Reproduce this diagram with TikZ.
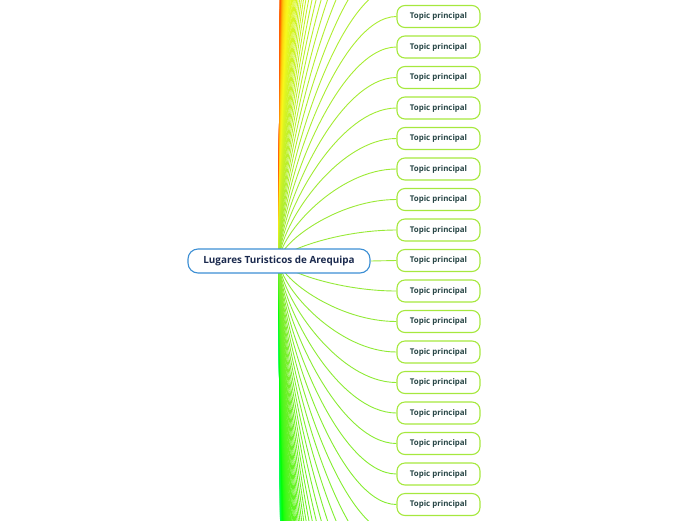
\documentclass[tikz,border=0pt]{standalone}
\usepackage{fontspec}
\setmainfont{Open Sans}
\usetikzlibrary{backgrounds}
\definecolor{topicline}{HTML}{A6E83E}
\definecolor{topictext}{HTML}{284646}
\definecolor{centerline}{HTML}{3C8FD4}
\definecolor{centertext}{HTML}{1B2A4E}
\definecolor{nearline}{HTML}{9EE83A}
\tikzset{
  topic/.style={draw=topicline, line width=1.1pt, rounded corners=8pt,
    minimum width=83pt, minimum height=22pt, fill=white, inner sep=0pt,
    font=\fontsize{7.9}{9}\selectfont\bfseries, text=topictext},
  central/.style={draw=centerline, line width=1.1pt, rounded corners=10pt,
    minimum width=182pt, minimum height=24pt, fill=white, inner sep=0pt,
    font=\fontsize{9.9}{11}\selectfont\bfseries, text=centertext},
  conn/.style={line width=0.9pt}
}
\begin{document}
\begin{tikzpicture}[x=1pt,y=-1pt]
\useasboundingbox (0,0) rectangle (696,520);
\clip (0,0) rectangle (696,520);
\node[central] (c) at (279,261) {Lugares Turisticos de Arequipa};
\node[topic] (t0) at (438.5,260.5) {Topic principal};
\begin{scope}[on background layer]
  \draw[conn, nearline] (c.east) -- (t0.west);
\end{scope}
% upper topics
\foreach \k in {110,109,...,1}{
  \pgfmathsetmacro\yy{260.5-30.5*\k}
  \pgfmathsetmacro\ya{261+0.3*(\yy-261)}
  \pgfmathsetmacro\hu{max(22,88-0.85*\k)}
  \pgfmathsetmacro\sa{min(1,0.76+0.004*\k)}
  \pgfmathsetmacro\br{min(1,0.91+0.002*\k)}
  \definecolor{cc}{Hsb}{\hu,\sa,\br}
  \ifnum\k<9
    \node[topic] (u\k) at (438.5,\yy) {Topic principal};
    \def\tgt{u\k.west}
  \else
    \coordinate (eu\k) at (397,\yy);
    \def\tgt{eu\k}
  \fi
  \begin{scope}[on background layer]
    \draw[conn, cc] (c.center) .. controls (280,\ya) and (338,\yy) .. (\tgt);
  \end{scope}
}
% lower topics
\foreach \k in {110,109,...,1}{
  \pgfmathsetmacro\yy{260.5+30.5*\k}
  \pgfmathsetmacro\ya{261+0.3*(\yy-261)}
  \pgfmathsetmacro\hu{min(140,88+0.6*\k)}
  \pgfmathsetmacro\sa{min(1,0.76+0.004*\k)}
  \pgfmathsetmacro\br{min(1,0.91+0.002*\k)}
  \definecolor{cc}{Hsb}{\hu,\sa,\br}
  \ifnum\k<9
    \node[topic] (d\k) at (438.5,\yy) {Topic principal};
    \def\tgt{d\k.west}
  \else
    \coordinate (ed\k) at (397,\yy);
    \def\tgt{ed\k}
  \fi
  \begin{scope}[on background layer]
    \draw[conn, cc] (c.center) .. controls (281,\ya) and (338,\yy) .. (\tgt);
  \end{scope}
}
\end{tikzpicture}
\end{document}
